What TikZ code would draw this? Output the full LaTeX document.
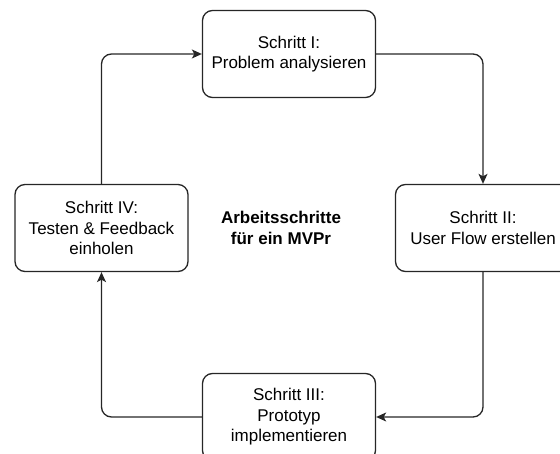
\documentclass[tikz,border=0pt]{standalone}
\usepackage{fontspec}
\setmainfont{Liberation Sans}
\usetikzlibrary{arrows.meta}
\begin{document}
\begin{tikzpicture}[x=1pt,y=-1pt,
  stepbox/.style={draw=black!85, line width=1.3pt, rounded corners=10pt, fill=white,
    minimum width=173pt, minimum height=87pt, align=center, inner sep=0pt,
    font=\fontsize{17}{20.6}\selectfont},
  conn/.style={draw=black!85, line width=1.3pt, rounded corners=10pt,
    -{Stealth[length=10pt,width=9pt,inset=2.5pt]}},
  title/.style={align=center, font=\fontsize{17}{20.6}\selectfont\bfseries}]
\useasboundingbox (0,0) rectangle (560,454);
\node[stepbox] (s1) at (289,54) {Schritt I:\\Problem analysieren};
\node[stepbox, minimum width=175pt] (s2) at (483,228) {Schritt II:\\User Flow erstellen};
\node[stepbox] (s3) at (289,417) {Schritt III:\\Prototyp\\implementieren};
\node[stepbox] (s4) at (101.5,228) {Schritt IV:\\Testen \& Feedback\\einholen};
\node[title] (t) at (281,228) {Arbeitsschritte\\für ein MVPr};
\draw[conn] (s1.east) -| (s2.north);
\draw[conn] (s2.south) |- (s3.east);
\draw[conn] (s3.west) -| (s4.south);
\draw[conn] (s4.north) |- (s1.west);
\end{tikzpicture}
\end{document}
